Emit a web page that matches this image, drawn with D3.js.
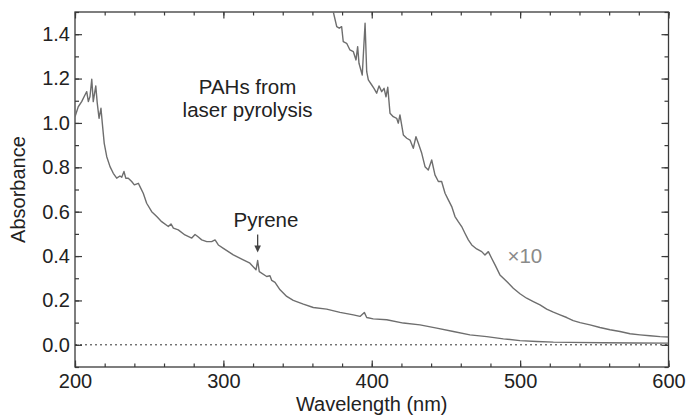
<!DOCTYPE html>
<html>
<head>
<meta charset="utf-8">
<script src="https://cdn.jsdelivr.net/npm/d3@7"></script>
<style>
  body { margin: 0; background: #fff; }
  svg { display: block; }
  text { font-family: "Liberation Sans", Arial, Helvetica, sans-serif; fill: #222; }
</style>
</head>
<body>
<svg id="chart" width="690" height="418"></svg>
<script>
// UV-vis absorbance spectrum of PAHs from laser pyrolysis (nm, absorbance units)
const wavelength = [200.0,202.2,204.5,206.7,207.9,209.0,210.1,211.3,212.3,214.0,215.0,216.2,217.5,218.4,219.7,221.4,223.6,225.8,228.1,230.3,231.5,233.0,234.2,235.9,238.2,240.0,242.7,243.8,246.0,248.3,251.7,255.1,258.4,262.9,264.7,266.3,269.6,274.1,278.7,280.9,282.7,285.4,288.8,292.1,294.4,296.6,300.0,306.7,313.4,317.9,322.0,323.1,324.2,329.2,331.4,332.6,334.8,338.2,342.7,347.1,353.9,360.6,369.6,378.6,387.6,392.1,395.0,396.6,401.0,410.1,421.3,432.5,443.8,455.0,466.2,477.5,488.7,499.9,511.2,522.4,533.6,556.1,577.4,600.0];
const absorbance = [1.028,1.073,1.096,1.126,1.141,1.096,1.119,1.197,1.096,1.167,1.089,1.021,1.066,0.999,0.908,0.848,0.803,0.773,0.751,0.761,0.755,0.781,0.751,0.751,0.736,0.721,0.728,0.713,0.683,0.638,0.600,0.578,0.555,0.533,0.545,0.526,0.518,0.495,0.481,0.497,0.488,0.473,0.465,0.465,0.473,0.450,0.435,0.405,0.383,0.368,0.338,0.380,0.330,0.308,0.311,0.290,0.281,0.248,0.218,0.200,0.183,0.168,0.161,0.146,0.135,0.128,0.146,0.123,0.117,0.113,0.098,0.090,0.075,0.060,0.045,0.037,0.027,0.019,0.015,0.012,0.011,0.009,0.008,0.0075];

// Same spectrum magnified ten times for the long-wavelength tail
const wavelengthX10 = [374.1,376.4,378.1,379.7,380.8,383.1,385.3,387.6,389.4,390.5,391.4,393.6,395.5,396.6,397.7,400.0,401.5,403.3,404.9,406.7,408.3,409.6,410.8,412.3,414.5,416.8,417.9,419.0,421.3,423.6,425.8,428.0,429.8,431.4,433.7,435.9,438.1,440.4,442.6,444.9,447.1,449.4,451.6,453.9,456.1,458.3,460.6,462.8,465.1,467.4,470.7,474.1,476.3,478.6,480.8,483.1,486.4,491.0,495.4,499.9,504.4,508.9,513.4,517.9,522.4,526.9,531.4,535.8,540.4,547.1,553.8,560.6,567.3,574.1,580.8,587.5,594.3,600.0];
const absorbanceX10 = [1.500,1.434,1.427,1.434,1.366,1.359,1.329,1.321,1.284,1.344,1.269,1.216,1.449,1.231,1.194,1.171,1.156,1.134,1.167,1.141,1.156,1.118,1.161,1.044,1.028,1.021,0.999,1.036,0.946,0.931,0.923,0.886,0.938,0.908,0.863,0.803,0.788,0.833,0.766,0.736,0.736,0.683,0.653,0.623,0.578,0.555,0.533,0.503,0.473,0.450,0.432,0.420,0.405,0.420,0.390,0.360,0.315,0.285,0.255,0.230,0.210,0.195,0.180,0.161,0.147,0.135,0.123,0.109,0.100,0.090,0.078,0.068,0.060,0.050,0.045,0.041,0.037,0.035];

const xTicks = [200, 300, 400, 500, 600];
const xMinorTicks = d3.range(200, 601, 20);
const yTicks = [0.0, 0.2, 0.4, 0.6, 0.8, 1.0, 1.2, 1.4];
const yMinorTicks = d3.range(-0.1, 1.51, 0.1).map(v => +v.toFixed(1));

const svg = d3.select("#chart");
const margin = { left: 75, right: 21.5, top: 12, bottom: 51 };
const W = 690, H = 418;
const iw = W - margin.left - margin.right;
const ih = H - margin.top - margin.bottom;

const x = d3.scaleLinear().domain([200, 600]).range([0, iw]);
const y = d3.scaleLinear().domain([-0.1, 1.5]).range([ih, 0]);

const g = svg.append("g").attr("transform", `translate(${margin.left},${margin.top})`);

g.append("clipPath").attr("id", "plot-clip")
  .append("rect").attr("width", iw).attr("height", ih);

const axisColor = "#3a3a3a";
const fmt = d3.format(".1f");

function styleAxis(sel) {
  sel.select(".domain").remove();
  sel.selectAll(".tick line").attr("stroke", axisColor).attr("stroke-width", 1.2);
  sel.selectAll(".tick text").attr("font-size", 20).attr("fill", "#222");
}

// bottom
g.append("g").attr("transform", `translate(0,${ih})`)
  .call(d3.axisBottom(x).tickValues(xMinorTicks).tickSize(-3.5).tickFormat(""))
  .call(styleAxis);
g.append("g").attr("transform", `translate(0,${ih})`)
  .call(d3.axisBottom(x).tickValues(xTicks).tickSize(-6.5).tickPadding(7).tickFormat(d3.format("d")))
  .call(styleAxis);
// top
g.append("g")
  .call(d3.axisTop(x).tickValues(xMinorTicks).tickSize(-3.5).tickFormat(""))
  .call(styleAxis);
g.append("g")
  .call(d3.axisTop(x).tickValues(xTicks).tickSize(-6.5).tickFormat(""))
  .call(styleAxis);
// left
g.append("g")
  .call(d3.axisLeft(y).tickValues(yMinorTicks).tickSize(-4).tickFormat(""))
  .call(styleAxis);
g.append("g")
  .call(d3.axisLeft(y).tickValues(yTicks).tickSize(-7).tickPadding(5).tickFormat(fmt))
  .call(styleAxis);
// right
g.append("g").attr("transform", `translate(${iw},0)`)
  .call(d3.axisRight(y).tickValues(yMinorTicks).tickSize(-4).tickFormat(""))
  .call(styleAxis);
g.append("g").attr("transform", `translate(${iw},0)`)
  .call(d3.axisRight(y).tickValues(yTicks).tickSize(-7).tickFormat(""))
  .call(styleAxis);

// frame
g.append("rect").attr("width", iw).attr("height", ih)
  .attr("fill", "none").attr("stroke", axisColor).attr("stroke-width", 1.3);

// zero baseline
g.append("line")
  .attr("x1", 0).attr("x2", iw).attr("y1", y(0)).attr("y2", y(0))
  .attr("stroke", "#333").attr("stroke-width", 1).attr("stroke-dasharray", "2,3");

const line = d3.line().x(d => x(d[0])).y(d => y(d[1]));
const curves = g.append("g").attr("clip-path", "url(#plot-clip)");

curves.append("path")
  .datum(d3.zip(wavelength, absorbance))
  .attr("d", line).attr("fill", "none")
  .attr("stroke", "#6e6e6e").attr("stroke-width", 1.4).attr("stroke-linejoin", "round");

curves.append("path")
  .datum(d3.zip(wavelengthX10, absorbanceX10))
  .attr("d", line).attr("fill", "none")
  .attr("stroke", "#6e6e6e").attr("stroke-width", 1.4).attr("stroke-linejoin", "round");

// annotations
const label = g.append("g").attr("font-size", 20.5);
label.append("text").attr("x", x(316.3)).attr("y", y(1.131))
  .attr("text-anchor", "middle").text("PAHs from");
label.append("text").attr("x", x(316.3)).attr("y", y(1.027))
  .attr("text-anchor", "middle").text("laser pyrolysis");
label.append("text").attr("x", x(328.7)).attr("y", y(0.533))
  .attr("text-anchor", "middle").text("Pyrene");
label.append("text").attr("x", x(491.5)).attr("y", y(0.368))
  .attr("text-anchor", "start").style("fill", "#8a8a8a").text("×10");

// arrow pointing at the pyrene band
const ax = x(323.1), ayTop = y(0.497), ayTip = y(0.416);
g.append("line").attr("x1", ax).attr("x2", ax).attr("y1", ayTop).attr("y2", ayTip - 5)
  .attr("stroke", "#444").attr("stroke-width", 1.3);
g.append("path")
  .attr("d", `M${ax - 3.3},${ayTip - 7} L${ax + 3.3},${ayTip - 7} L${ax},${ayTip} Z`)
  .attr("fill", "#444");

// axis titles
svg.append("text")
  .attr("x", margin.left + iw / 2).attr("y", 411)
  .attr("text-anchor", "middle").attr("font-size", 20)
  .text("Wavelength (nm)");
svg.append("text")
  .attr("transform", `translate(25,${margin.top + ih / 2}) rotate(-90)`)
  .attr("text-anchor", "middle").attr("font-size", 20)
  .text("Absorbance");
</script>
</body>
</html>
